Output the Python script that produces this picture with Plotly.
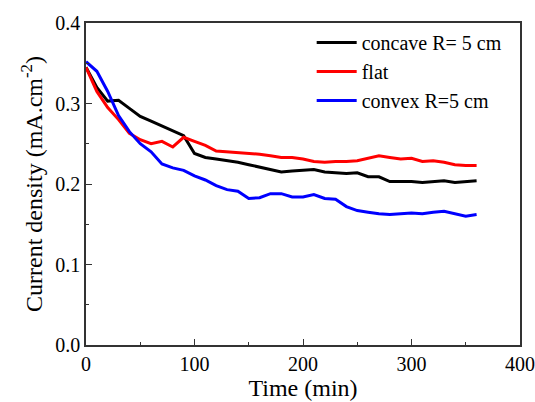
import plotly.graph_objects as go

time_min = list(range(0, 361, 10))

concave = [0.345, 0.320, 0.303, 0.304, 0.294, 0.284, 0.278, 0.272, 0.266, 0.260,
           0.238, 0.233, 0.231, 0.229, 0.227, 0.224, 0.221, 0.218, 0.215, 0.216,
           0.217, 0.218, 0.215, 0.214, 0.213, 0.214, 0.209, 0.209, 0.203, 0.203,
           0.203, 0.202, 0.203, 0.204, 0.202, 0.203, 0.204]

flat = [0.345, 0.315, 0.295, 0.280, 0.263, 0.255, 0.250, 0.253, 0.246, 0.258,
        0.253, 0.248, 0.241, 0.240, 0.239, 0.238, 0.237, 0.235, 0.233, 0.233,
        0.231, 0.228, 0.227, 0.228, 0.228, 0.229, 0.232, 0.235, 0.233, 0.231,
        0.232, 0.228, 0.229, 0.227, 0.224, 0.223, 0.223]

convex = [0.352, 0.340, 0.315, 0.285, 0.265, 0.250, 0.240, 0.225, 0.220, 0.217,
          0.210, 0.205, 0.198, 0.193, 0.191, 0.182, 0.183, 0.188, 0.188, 0.184,
          0.184, 0.187, 0.182, 0.181, 0.172, 0.167, 0.165, 0.163, 0.162, 0.163,
          0.164, 0.163, 0.165, 0.166, 0.163, 0.160, 0.162]

series = [("concave R= 5 cm", concave, "#000000"),
          ("flat", flat, "#ff0000"),
          ("convex R=5 cm", convex, "#0000ff")]

font = "Times New Roman, Liberation Serif, DejaVu Serif, serif"

fig = go.Figure()
for name, vals, col in series:
    fig.add_trace(go.Scatter(x=time_min, y=vals, mode="lines", name=name,
                             line=dict(color=col, width=3)))

fig.update_layout(
    width=535, height=402,
    margin=dict(l=86, r=15, t=23, b=57, autoexpand=False),
    paper_bgcolor="white", plot_bgcolor="white",
    font=dict(family=font, size=20, color="black"),
    showlegend=True,
    legend=dict(x=0.52, y=1.0, xanchor="left", yanchor="top",
                font=dict(family=font, size=20), bgcolor="rgba(0,0,0,0)",
                tracegroupgap=0, itemwidth=40),
)
fig.update_xaxes(
    range=[0, 400], tickvals=[0, 100, 200, 300, 400],
    ticks="inside", ticklen=6, tickwidth=1, tickcolor="#333",
    minor=dict(dtick=50, ticks="inside", ticklen=3, tickcolor="#333"),
    showline=True, linecolor="#333", linewidth=1.5, mirror=True,
    showgrid=False, zeroline=False, automargin=False,
    tickfont=dict(family=font, size=20),
    title=dict(text="Time (min)", font=dict(family=font, size=24), standoff=4),
)
fig.update_yaxes(
    range=[0, 0.4], tickvals=[0, 0.1, 0.2, 0.3, 0.4], ticktext=["0.0", "0.1", "0.2", "0.3", "0.4"],
    ticks="inside", ticklen=6, tickwidth=1, tickcolor="#333",
    minor=dict(dtick=0.05, ticks="inside", ticklen=3, tickcolor="#333"),
    showline=True, linecolor="#333", linewidth=1.5, mirror=True,
    showgrid=False, zeroline=False, automargin=False,
    tickfont=dict(family=font, size=20),
    title=dict(text="Current density (mA.cm<sup>-2</sup>)", font=dict(family=font, size=24), standoff=6),
)

fig.write_html("out.html", config={"displayModeBar": False},
               post_script="document.body.style.margin='0';")
